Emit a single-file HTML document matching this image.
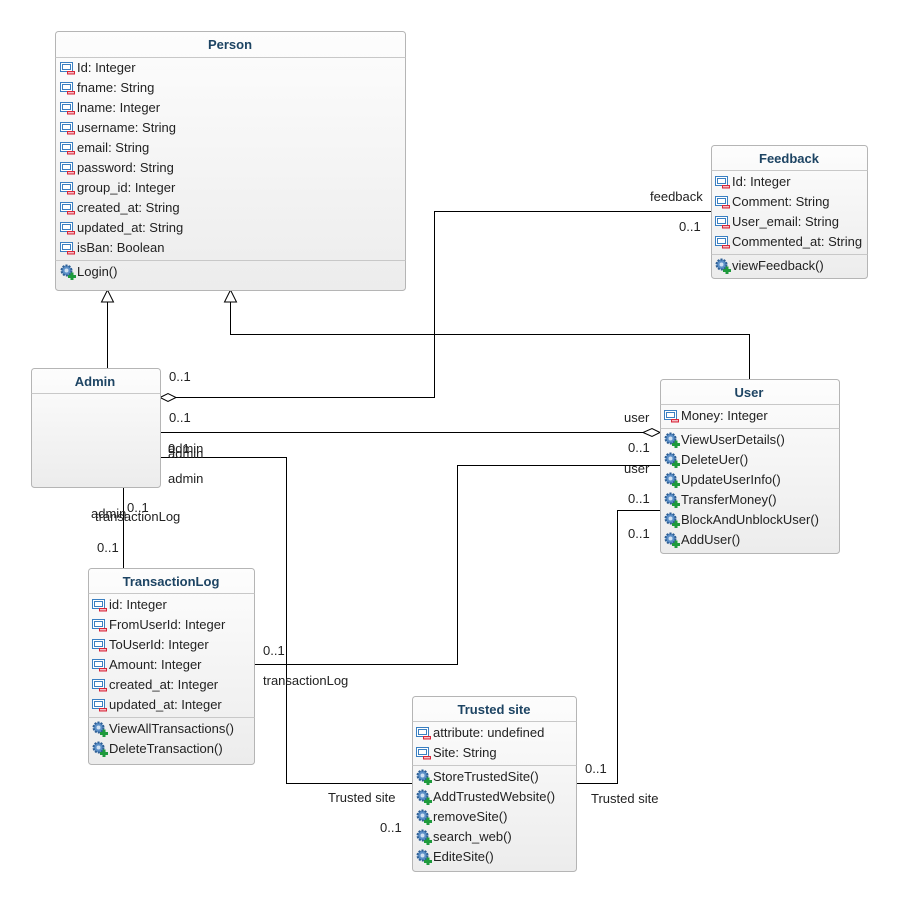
<!DOCTYPE html>
<html><head><meta charset="utf-8">
<style>
html,body{margin:0;padding:0;background:#fff;}
svg text{font-family:"Liberation Sans",sans-serif;font-size:13px;fill:#222;}
svg text.t{font-weight:bold;fill:#1d4463;font-size:13px;}
</style></head><body>
<svg width="897" height="901" viewBox="0 0 897 901" xmlns="http://www.w3.org/2000/svg">
<defs>
<linearGradient id="g" x1="0" y1="0" x2="0" y2="1"><stop offset="0" stop-color="#fdfdfd"/><stop offset="1" stop-color="#ececec"/></linearGradient>
<symbol id="a" viewBox="0 0 16 14" width="16" height="14">
<rect x="0.5" y="1.5" width="12" height="9" fill="#fff" stroke="#3a7fc1"/>
<rect x="2.5" y="3.5" width="8" height="5" fill="none" stroke="#3a7fc1"/>
<rect x="7" y="10" width="8" height="3.5" fill="#d9263a"/>
<rect x="8" y="11.3" width="6" height="1" fill="#fff"/>
</symbol>
<symbol id="m" viewBox="0 0 16 16" width="16" height="16">
<circle cx="6.5" cy="6.5" r="5" fill="#5b8fc7" stroke="#2e5f95" stroke-dasharray="2 1.2" stroke-width="2"/>
<circle cx="6.5" cy="6.5" r="2" fill="#cfe0f2"/>
<rect x="8" y="11" width="8" height="3" fill="#1e9a3c"/>
<rect x="10.5" y="8.5" width="3" height="8" fill="#1e9a3c"/>
</symbol>
</defs>

<!-- connectors -->
<g stroke="#000" stroke-width="1" fill="none">
<line x1="107.5" y1="368" x2="107.5" y2="302"/>
<polygon points="107.5,290 101.5,302 113.5,302" fill="#fff"/>
<polyline points="749.5,379 749.5,334.5 230.5,334.5 230.5,302"/>
<polygon points="230.5,290 224.5,302 236.5,302" fill="#fff"/>
<polyline points="711,211.5 434.5,211.5 434.5,397.5 176,397.5"/>
<polygon points="160,397.5 168,393.5 176,397.5 168,401.5" fill="#fff"/>
<line x1="160" y1="432.5" x2="643" y2="432.5"/>
<polygon points="660,432.5 652,428.5 643,432.5 652,436.5" fill="#fff"/>
<polyline points="160,457.5 286.5,457.5 286.5,783.5 412,783.5"/>
<polyline points="254,664.5 457.5,664.5 457.5,465.5 660,465.5"/>
<polyline points="576,783.5 617.5,783.5 617.5,510.5 660,510.5"/>
<line x1="123.5" y1="487" x2="123.5" y2="568"/>
</g>

<!-- Person -->
<rect x="55.5" y="31.5" width="350" height="259" rx="3" fill="url(#g)" stroke="#b5b5b5"/>
<line x1="55.5" y1="57.5" x2="405.5" y2="57.5" stroke="#c8c8c8"/>
<line x1="55.5" y1="260.5" x2="405.5" y2="260.5" stroke="#c8c8c8"/>
<text class="t" x="230" y="49" text-anchor="middle">Person</text>
<g>
<use href="#a" x="60" y="61"/><text x="77" y="72">Id: Integer</text>
<use href="#a" x="60" y="81"/><text x="77" y="92">fname: String</text>
<use href="#a" x="60" y="101"/><text x="77" y="112">lname: Integer</text>
<use href="#a" x="60" y="121"/><text x="77" y="132">username: String</text>
<use href="#a" x="60" y="141"/><text x="77" y="152">email: String</text>
<use href="#a" x="60" y="161"/><text x="77" y="172">password: String</text>
<use href="#a" x="60" y="181"/><text x="77" y="192">group_id: Integer</text>
<use href="#a" x="60" y="201"/><text x="77" y="212">created_at: String</text>
<use href="#a" x="60" y="221"/><text x="77" y="232">updated_at: String</text>
<use href="#a" x="60" y="241"/><text x="77" y="252">isBan: Boolean</text>
<use href="#m" x="60" y="264"/><text x="77" y="276">Login()</text>
</g>

<!-- Feedback -->
<rect x="711.5" y="145.5" width="156" height="133" rx="3" fill="url(#g)" stroke="#b5b5b5"/>
<line x1="711.5" y1="170.5" x2="867.5" y2="170.5" stroke="#c8c8c8"/>
<line x1="711.5" y1="254.5" x2="867.5" y2="254.5" stroke="#c8c8c8"/>
<text class="t" x="789" y="163" text-anchor="middle">Feedback</text>
<use href="#a" x="715" y="175"/><text x="732" y="186">Id: Integer</text>
<use href="#a" x="715" y="195"/><text x="732" y="206">Comment: String</text>
<use href="#a" x="715" y="215"/><text x="732" y="226">User_email: String</text>
<use href="#a" x="715" y="235"/><text x="732" y="246">Commented_at: String</text>
<use href="#m" x="715" y="258"/><text x="732" y="270">viewFeedback()</text>

<!-- Admin -->
<rect x="31.5" y="368.5" width="129" height="119" rx="3" fill="url(#g)" stroke="#b5b5b5"/>
<line x1="31.5" y1="393.5" x2="160.5" y2="393.5" stroke="#c8c8c8"/>
<text class="t" x="95" y="386" text-anchor="middle">Admin</text>

<!-- User -->
<rect x="660.5" y="379.5" width="179" height="174" rx="3" fill="url(#g)" stroke="#b5b5b5"/>
<line x1="660.5" y1="404.5" x2="839.5" y2="404.5" stroke="#c8c8c8"/>
<line x1="660.5" y1="428.5" x2="839.5" y2="428.5" stroke="#c8c8c8"/>
<text class="t" x="749" y="397" text-anchor="middle">User</text>
<use href="#a" x="664" y="409"/><text x="681" y="420">Money: Integer</text>
<use href="#m" x="664" y="432"/><text x="681" y="444">ViewUserDetails()</text>
<use href="#m" x="664" y="452"/><text x="681" y="464">DeleteUer()</text>
<use href="#m" x="664" y="472"/><text x="681" y="484">UpdateUserInfo()</text>
<use href="#m" x="664" y="492"/><text x="681" y="504">TransferMoney()</text>
<use href="#m" x="664" y="512"/><text x="681" y="524">BlockAndUnblockUser()</text>
<use href="#m" x="664" y="532"/><text x="681" y="544">AddUser()</text>

<!-- TransactionLog -->
<rect x="88.5" y="568.5" width="166" height="196" rx="3" fill="url(#g)" stroke="#b5b5b5"/>
<line x1="88.5" y1="593.5" x2="254.5" y2="593.5" stroke="#c8c8c8"/>
<line x1="88.5" y1="717.5" x2="254.5" y2="717.5" stroke="#c8c8c8"/>
<text class="t" x="171" y="586" text-anchor="middle">TransactionLog</text>
<use href="#a" x="92" y="598"/><text x="109" y="609">id: Integer</text>
<use href="#a" x="92" y="618"/><text x="109" y="629">FromUserId: Integer</text>
<use href="#a" x="92" y="638"/><text x="109" y="649">ToUserId: Integer</text>
<use href="#a" x="92" y="658"/><text x="109" y="669">Amount: Integer</text>
<use href="#a" x="92" y="678"/><text x="109" y="689">created_at: Integer</text>
<use href="#a" x="92" y="698"/><text x="109" y="709">updated_at: Integer</text>
<use href="#m" x="92" y="721"/><text x="109" y="733">ViewAllTransactions()</text>
<use href="#m" x="92" y="741"/><text x="109" y="753">DeleteTransaction()</text>

<!-- Trusted site -->
<rect x="412.5" y="696.5" width="164" height="175" rx="3" fill="url(#g)" stroke="#b5b5b5"/>
<line x1="412.5" y1="721.5" x2="576.5" y2="721.5" stroke="#c8c8c8"/>
<line x1="412.5" y1="765.5" x2="576.5" y2="765.5" stroke="#c8c8c8"/>
<text class="t" x="494" y="714" text-anchor="middle">Trusted site</text>
<use href="#a" x="416" y="726"/><text x="433" y="737">attribute: undefined</text>
<use href="#a" x="416" y="746"/><text x="433" y="757">Site: String</text>
<use href="#m" x="416" y="769"/><text x="433" y="781">StoreTrustedSite()</text>
<use href="#m" x="416" y="789"/><text x="433" y="801">AddTrustedWebsite()</text>
<use href="#m" x="416" y="809"/><text x="433" y="821">removeSite()</text>
<use href="#m" x="416" y="829"/><text x="433" y="841">search_web()</text>
<use href="#m" x="416" y="849"/><text x="433" y="861">EditeSite()</text>

<!-- labels -->
<text x="650" y="201">feedback</text>
<text x="679" y="231">0..1</text>
<text x="169" y="381">0..1</text>
<text x="169" y="422">0..1</text>
<text x="624" y="422">user</text>
<text x="628" y="452">0..1</text>
<text x="624" y="473">user</text>
<text x="628" y="503">0..1</text>
<text x="628" y="538">0..1</text>
<text x="168" y="453">0..1</text>
<text x="168" y="453">admin</text>
<text x="168" y="458">admin</text>
<text x="168" y="483">admin</text>
<text x="91" y="518">admin</text>
<text x="127" y="512">0..1</text>
<text x="95" y="521">transactionLog</text>
<text x="97" y="552">0..1</text>
<text x="263" y="655">0..1</text>
<text x="263" y="685">transactionLog</text>
<text x="328" y="802">Trusted site</text>
<text x="380" y="832">0..1</text>
<text x="585" y="773">0..1</text>
<text x="591" y="803">Trusted site</text>
</svg>
</body></html>
